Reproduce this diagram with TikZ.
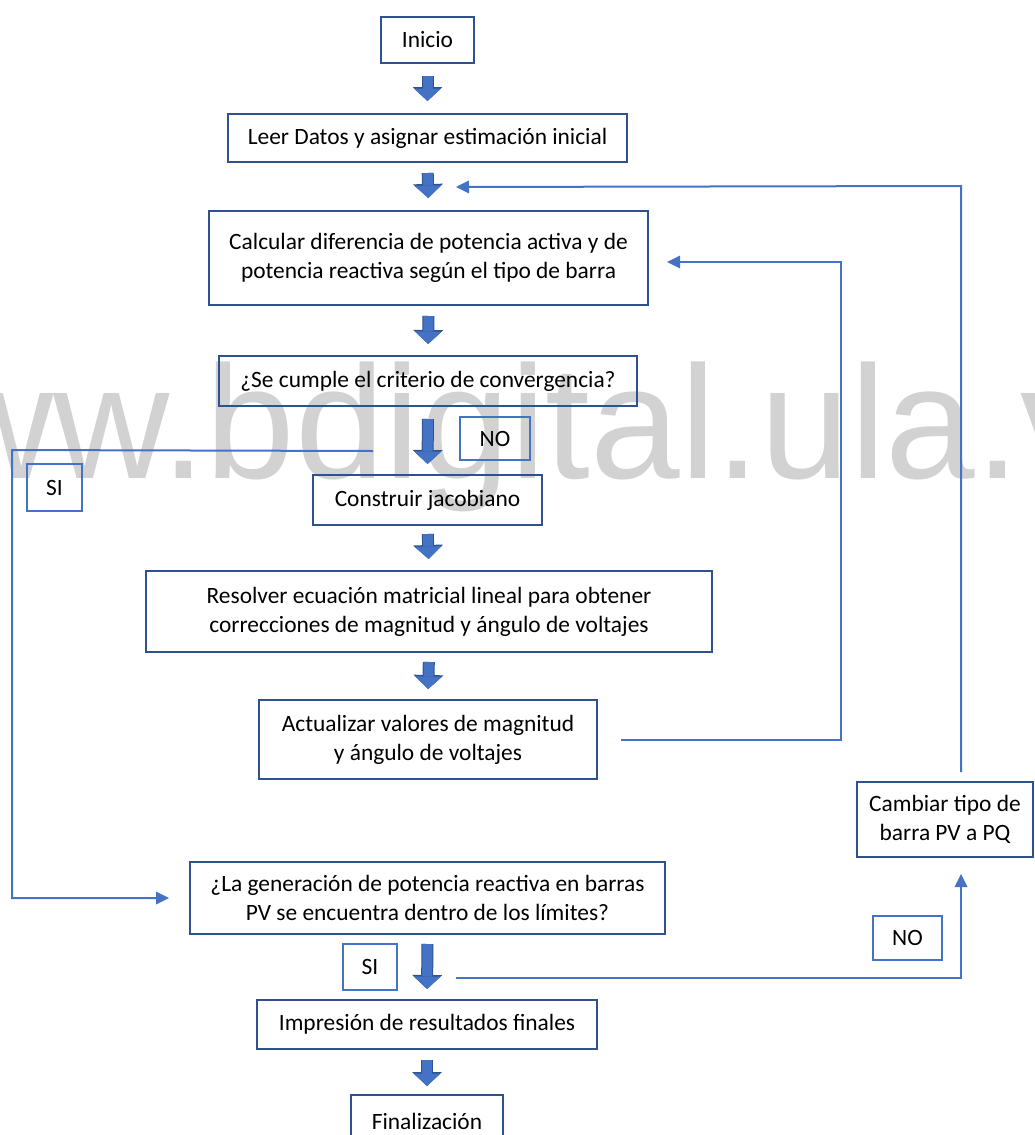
\documentclass[tikz,border=0pt]{standalone}
\usepackage{fontspec}
\setmainfont{Carlito}
\newfontfamily\markfont{Liberation Sans}
\usetikzlibrary{positioning,arrows.meta,calc}
\definecolor{boxblue}{HTML}{2F528F}
\definecolor{lineblue}{HTML}{4472C4}

\begin{document}
\begin{tikzpicture}[
    x=1pt, y=-1pt,
    every node/.style={font=\fontsize{23.4}{29}\selectfont},
    procbox/.style={draw=boxblue, line width=2pt, align=center, inner sep=0pt},
    tagbox/.style={draw=lineblue, line width=1.5pt, inner sep=0pt},
    blockarrow/.style={draw=lineblue, line width=10pt, shorten <=10pt, shorten >=11pt,
      -{Triangle[width=27pt,length=12.5pt,line width=0pt]},
      preaction={draw=boxblue, line width=12pt, -{Triangle[width=30pt,length=14pt,line width=0pt]}}},
    flow/.style={draw=lineblue, line width=2pt, -{Triangle[width=13pt,length=13pt,line width=0pt]}}
  ]
    \useasboundingbox (0,0) rectangle (1035,1135);

    % watermark
    \node[font=\markfont\fontsize{161}{161}\selectfont, text=gray!35, anchor=base west, inner sep=0pt]
      (mark) at (-179,478) {www.bdigital.ula.ve};

    % main column
    \node[procbox, minimum width=93pt, minimum height=46pt] (inicio) at (427.5,40) {Inicio};
    \node[procbox, minimum width=399pt, minimum height=48pt] (leer) at (427.5,138)
      {Leer Datos y asignar estimación inicial};
    \node[procbox, minimum width=439pt, minimum height=94pt] (calc) at (428.5,258)
      {Calcular diferencia de potencia activa y de\\potencia reactiva según el tipo de barra};
    \node[procbox, minimum width=418pt, minimum height=50pt] (conv) at (428,381)
      {¿Se cumple el criterio de convergencia?};
    \node[procbox, minimum width=229pt, minimum height=50pt] (jacob) at (427.5,500)
      {Construir jacobiano};
    \node[procbox, minimum width=566pt, minimum height=81pt] (resol) at (429,611.5)
      {Resolver ecuación matricial lineal para obtener\\correcciones de magnitud y ángulo de voltajes};
    \node[procbox, minimum width=338pt, minimum height=79pt] (actual) at (428,739.5)
      {Actualizar valores de magnitud\\y ángulo de voltajes};
    \node[procbox, minimum width=475pt, minimum height=72pt] (limq) at (427.5,898)
      {¿La generación de potencia reactiva en barras\\PV se encuentra dentro de los límites?};
    \node[procbox, minimum width=340pt, minimum height=49pt] (impr) at (427,1024.5)
      {Impresión de resultados finales};
    \node[procbox, minimum width=152pt, minimum height=52pt] (fin) at (427,1121)
      {Finalización};
    \node[procbox, minimum width=176pt, minimum height=75pt] (cambiar) at (945,819.5)
      {Cambiar tipo de\\barra PV a PQ};

    % branch tags
    \node[tagbox, minimum width=70pt, minimum height=43pt] (no1) at (495,438.5) {NO};
    \node[tagbox, minimum width=55pt, minimum height=47pt] (si1) at (54.5,487.5) {SI};
    \node[tagbox, minimum width=69pt, minimum height=44pt] (no2) at (907.5,938) {NO};
    \node[tagbox, minimum width=54pt, minimum height=46pt] (si2) at (370,967) {SI};

    % block arrows
    \draw[blockarrow, shorten <=12pt, shorten >=12pt] (inicio.south) -- (leer.north);
    \draw[blockarrow, shorten >=12pt] (leer.south) -- (calc.north);
    \draw[blockarrow] (calc.south) -- (conv.north);
    \draw[blockarrow, shorten <=12pt, shorten >=10pt] (conv.south) -- (jacob.north);
    \draw[blockarrow, shorten <=8pt] (jacob.south) -- (resol.north);
    \draw[blockarrow, shorten <=9pt, shorten >=10pt] (resol.south) -- (actual.north);
    \draw[blockarrow, shorten <=9pt, shorten >=10pt] (limq.south) -- (impr.north);
    \draw[blockarrow, shorten >=8pt] (impr.south) -- (fin.north);

    % loops and branches
    \coordinate (sistart) at ($(conv.south)+(-55,44)$);
    \draw[flow] (sistart) -- (12,450) |- ([xshift=-20pt]limq.west);
    \draw[flow] ([xshift=23pt]actual.east) -- (841,739.5) |- ($(calc.east)+(18,4)$);
    \draw[flow] ($(cambiar.north)+(16,-9)$) -- (961,186) -- ($(leer.south)+(28.5,24)$);
    \draw[flow] ($(limq.south)+(28.5,43)$) -| ($(cambiar.south)+(16,16)$);
  \end{tikzpicture}
\end{document}
